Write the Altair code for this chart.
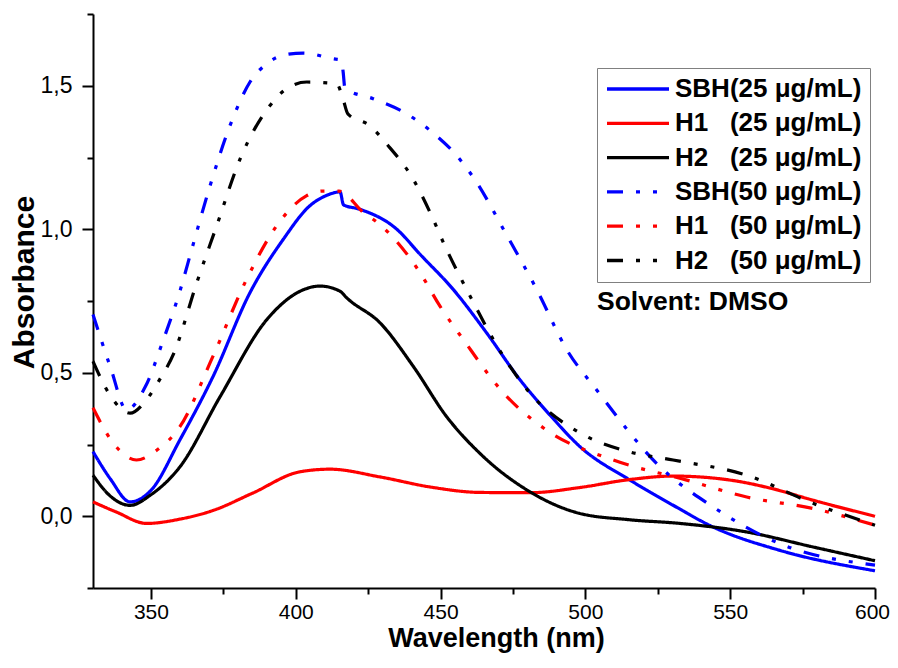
import altair as alt
import pandas as pd

FONT = "Liberation Sans"

labels = [
    "SBH(25 \u03bcg/mL)",
    "H1\u00a0\u00a0\u00a0(25 \u03bcg/mL)",
    "H2\u00a0\u00a0\u00a0(25 \u03bcg/mL)",
    "SBH(50 \u03bcg/mL)",
    "H1\u00a0\u00a0\u00a0(50 \u03bcg/mL)",
    "H2\u00a0\u00a0\u00a0(50 \u03bcg/mL)",
]
colors = ["#0000ff", "#ff0000", "#000000", "#0000ff", "#ff0000", "#000000"]
dashdot = [16, 13, 4, 13, 4, 13]
dashes = [[1, 0], [1, 0], [1, 0], dashdot, dashdot, dashdot]

wl_sbh25 = [330, 336, 342.8, 350, 360, 371.4, 384.2, 395.7, 404.9, 410, 415.3, 416.5, 422, 434.9,
            442.9, 454.4, 465.9, 477.4, 488, 498.2, 515.4, 530, 544, 567.2, 600]
ab_sbh25 = [0.225, 0.13, 0.05, 0.09, 0.266, 0.486, 0.779, 0.965, 1.082, 1.115, 1.13, 1.085, 1.07, 1.0,
            0.913, 0.79, 0.639, 0.476, 0.35, 0.242, 0.126, 0.04, -0.037, -0.119, -0.19]

wl_h1_25 = [330, 338, 348.5, 360, 371.4, 385, 401.5, 411.8, 429.1, 446.4, 463.6, 480.9, 498,
            515.4, 530.3, 550, 565, 578.6, 600]
ab_h1_25 = [0.05, 0.015, -0.025, -0.01, 0.02, 0.08, 0.155, 0.164, 0.137, 0.102, 0.083, 0.082, 0.1,
            0.128, 0.14, 0.126, 0.095, 0.056, 0.0]

wl_h2_25 = [330, 336, 342.8, 350, 360, 373.9, 390, 401.5, 408.4, 415.3, 417.6, 429.1, 440.6, 452.1,
            463.6, 480.9, 498, 515, 532.7, 555.8, 578.6, 600]
ab_h2_25 = [0.143, 0.07, 0.038, 0.075, 0.172, 0.417, 0.685, 0.784, 0.802, 0.784, 0.761, 0.674, 0.522,
            0.347, 0.219, 0.085, 0.01, -0.012, -0.025, -0.055, -0.107, -0.155]

wl_sbh50 = [330, 336, 341.6, 348, 354.3, 360, 364.1, 370.4, 377.3, 384.2, 390, 396.3, 402.6, 412.9,
            415.5, 416.3, 417, 426.7, 438.3, 446.4, 455.6, 462.5, 471.7, 483.2, 493.6, 503.9, 525.8,
            544, 567, 600]
ab_sbh50 = [0.703, 0.52, 0.371, 0.45, 0.615, 0.784, 0.93, 1.151, 1.361, 1.513, 1.577, 1.608, 1.614,
            1.594, 1.59, 1.554, 1.49, 1.455, 1.402, 1.344, 1.256, 1.163, 1.0, 0.79, 0.58, 0.44, 0.172,
            0.033, -0.095, -0.17]

wl_h1_50 = [330, 337, 345, 352, 360, 371.4, 383, 393.4, 403.8, 409.4, 415, 423.2, 429, 442.9, 449.8,
            457.9, 471.7, 486.6, 509.6, 535, 555.7, 578.6, 600]
ab_h1_50 = [0.378, 0.255, 0.196, 0.23, 0.312, 0.557, 0.825, 1.012, 1.117, 1.133, 1.133, 1.06, 1.017,
            0.849, 0.732, 0.615, 0.43, 0.30, 0.196, 0.126, 0.067, 0.027, -0.031]

wl_h2_50 = [330, 336, 342.8, 348, 353, 358, 365.8, 372.7, 380.8, 391.1, 397.3, 403.8, 414.1, 416.3,
            418, 425.6, 431.4, 440.5, 446.9, 451, 460.2, 471.7, 480.9, 498.2, 515, 530.3, 555.7,
            578.6, 600]
ab_h2_50 = [0.54, 0.42, 0.359, 0.4, 0.476, 0.57, 0.813, 1.012, 1.245, 1.431, 1.493, 1.513, 1.507,
            1.455, 1.402, 1.361, 1.297, 1.175, 1.047, 0.953, 0.767, 0.557, 0.429, 0.29, 0.225, 0.196,
            0.143, 0.045, -0.031]

x_ticks = [350, 375, 400, 425, 450, 475, 500, 525, 550, 575, 600]
y_ticks = [-0.25, 0.0, 0.25, 0.5, 0.75, 1.0, 1.25, 1.5, 1.75]

note_text = ["Solvent: DMSO"]
note_x = [504.0]
note_y = [0.745]

series = [
    (labels[0], wl_sbh25, ab_sbh25),
    (labels[1], wl_h1_25, ab_h1_25),
    (labels[2], wl_h2_25, ab_h2_25),
    (labels[3], wl_sbh50, ab_sbh50),
    (labels[4], wl_h1_50, ab_h1_50),
    (labels[5], wl_h2_50, ab_h2_50),
]
rows = []
for name, xs, ys in series:
    for xv, yv in zip(xs, ys):
        rows.append({"series": name, "wl": xv, "ab": yv})
df = pd.DataFrame(rows)

xscale = alt.Scale(domain=[330, 600], nice=False, zero=False)
yscale = alt.Scale(domain=[-0.25, 1.75], nice=False, zero=False)

x_major = "datum.value % 50 == 0"
y_major = "abs(datum.value * 2 - round(datum.value * 2)) < 0.001"

legend = alt.Legend(
    title=None, orient="none", legendX=504, legendY=54, direction="vertical", columns=1,
    symbolType="stroke", symbolSize=3844, symbolStrokeWidth=3.3, clipHeight=26,
    rowPadding=8.3, labelFont=FONT, labelFontSize=26, labelFontWeight="bold",
    labelColor="black", labelOffset=4, padding=8, strokeColor="#808080",
    fillColor="white", labelLimit=400,
)

lines = alt.Chart(df).mark_line(strokeWidth=3.2, interpolate="monotone").encode(
    x=alt.X("wl:Q", scale=xscale, axis=alt.Axis(
        values=x_ticks, title="Wavelength (nm)", titleFont=FONT, titleFontSize=27,
        titleFontWeight="bold", titleColor="black", titleX=403, titlePadding=3,
        labelFont=FONT, labelFontSize=21, labelColor="black", labelFlush=False,
        labelOverlap=False, labelExpr=f"{x_major} ? datum.label : ''",
        labelPadding=2,
        labelOffset={"condition": {"test": "datum.value == 600", "value": -3}, "value": 0},
        tickSize={"condition": {"test": x_major, "value": 11}, "value": 6},
        tickWidth=2, tickColor="black",
        domainColor="black", domainWidth=2, grid=False, orient="bottom")),
    y=alt.Y("ab:Q", scale=yscale, axis=alt.Axis(
        values=y_ticks, title="Absorbance", titleFont=FONT, titleFontSize=30,
        titleFontWeight="bold", titleColor="black", titleY=268, titlePadding=1,
        labelFont=FONT, labelFontSize=23, labelColor="black", labelOverlap=False,
        labelExpr=f"{y_major} ? replace(format(datum.value, '.1f'), '.', ',') : ''",
        labelPadding=10,
        tickSize={"condition": {"test": y_major, "value": 11}, "value": 6},
        tickWidth=2, tickColor="black",
        domainColor="black", domainWidth=2, grid=False, orient="left")),
    color=alt.Color("series:N", scale=alt.Scale(domain=labels, range=colors), legend=legend),
    strokeDash=alt.StrokeDash("series:N", scale=alt.Scale(domain=labels, range=dashes), legend=legend),
    detail="series:N",
)

note_df = pd.DataFrame({"x": note_x, "y": note_y, "t": note_text})
note = alt.Chart(note_df).mark_text(
    align="left", baseline="middle", font=FONT, fontSize=26.5, fontWeight="bold", color="black"
).encode(x=alt.X("x:Q", scale=xscale), y=alt.Y("y:Q", scale=yscale), text="t:N")

chart = alt.layer(lines, note).properties(
    width=782, height=574,
    autosize=alt.AutoSizeParams(type="none"),
    padding={"left": 85, "top": 6, "right": 15, "bottom": 67},
).configure_view(stroke=None)

chart.save("out.html", embed_options={"renderer": "svg", "actions": False})
